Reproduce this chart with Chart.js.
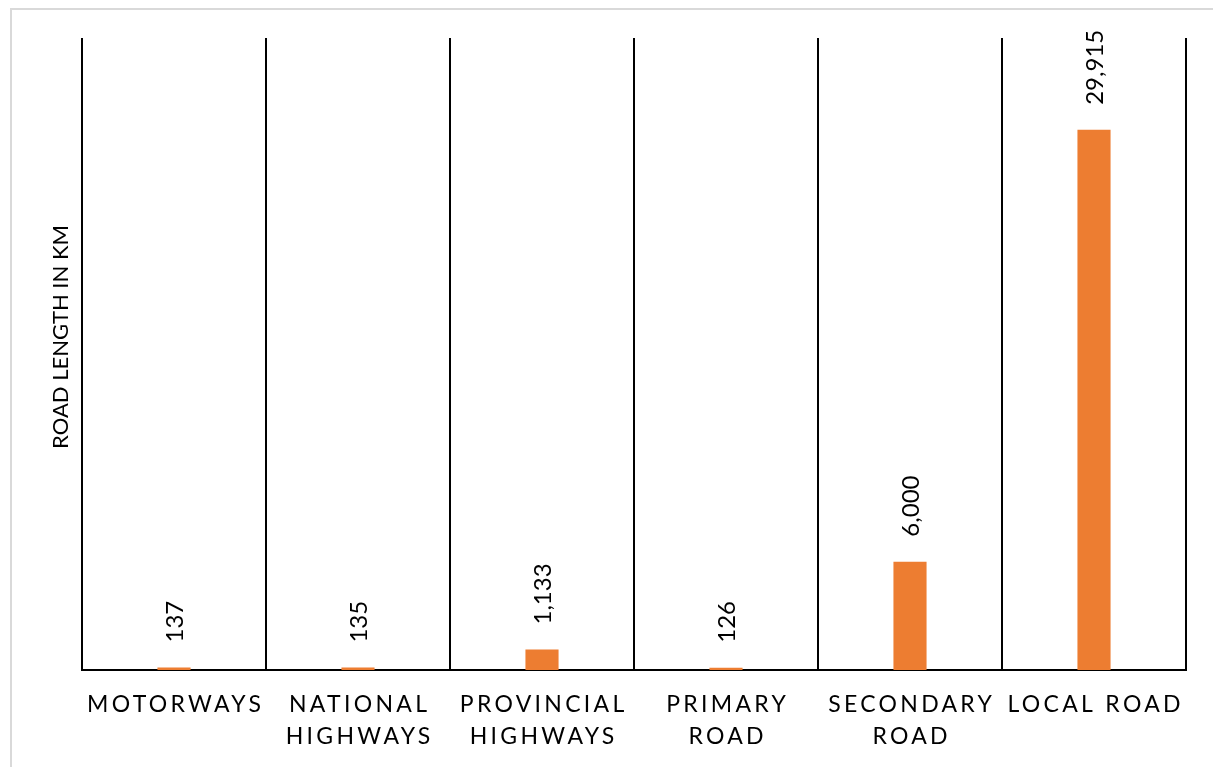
<!DOCTYPE html>
<html>
<head>
<meta charset="utf-8">
<title>Road length by road type</title>
<script src="https://cdn.jsdelivr.net/npm/chart.js@4.4.1/dist/chart.umd.min.js"></script>
<style>
  html, body { margin: 0; padding: 0; background: #fff; overflow: hidden; }
  #wrap { position: relative; width: 1213px; height: 767px; }
  #frame {
    position: absolute; left: 10px; top: 8px; width: 1300px; height: 900px;
    border: 2px solid #d9d9d9; box-sizing: border-box;
  }
  #c { position: absolute; left: 0; top: 0; }
</style>
</head>
<body>
<div id="wrap">
  <div id="frame"></div>
  <canvas id="c" width="1213" height="767"></canvas>
</div>
<script>
// Road types (multi-line category labels)
const categories = [
  ['MOTORWAYS'],
  ['NATIONAL', 'HIGHWAYS'],
  ['PROVINCIAL', 'HIGHWAYS'],
  ['PRIMARY', 'ROAD'],
  ['SECONDARY', 'ROAD'],
  ['LOCAL ROAD']
];
// Length of each road type, km
const roadLengthKm = [137, 135, 1133, 126, 6000, 29915];
const yAxisTitle = 'ROAD LENGTH IN KM';
const yAxisMax = 35000;

const FONT = 'Lato, "Open Sans", sans-serif';
const BAR_COLOR = '#ED7D31';

// Category axis whose labels are drawn with extra letter spacing
class SpacedCategoryScale extends Chart.CategoryScale {
  drawLabels(area) {
    const ctx = this.ctx;
    const spacing = 3.3;
    ctx.save();
    ctx.letterSpacing = spacing + 'px';
    ctx.translate(spacing / 2, 0);
    super.drawLabels(area);
    ctx.restore();
  }
}
SpacedCategoryScale.id = 'spacedCategory';
SpacedCategoryScale.defaults = Chart.CategoryScale.defaults;

// Value axis whose title sits slightly above the middle of the axis
class RaisedTitleLinearScale extends Chart.LinearScale {
  drawTitle() {
    const ctx = this.ctx;
    ctx.save();
    ctx.translate(0, -17);
    super.drawTitle();
    ctx.restore();
  }
}
RaisedTitleLinearScale.id = 'raisedTitleLinear';
RaisedTitleLinearScale.defaults = Chart.LinearScale.defaults;

Chart.register(SpacedCategoryScale, RaisedTitleLinearScale);

// Rotated value labels above every bar
const barValueLabels = {
  id: 'barValueLabels',
  afterDatasetsDraw(chart) {
    const ctx = chart.ctx;
    const meta = chart.getDatasetMeta(0);
    ctx.save();
    ctx.font = '24px ' + FONT;
    ctx.fillStyle = '#000';
    ctx.textAlign = 'left';
    ctx.textBaseline = 'middle';
    meta.data.forEach((bar, i) => {
      const { x, y } = bar.getProps(['x', 'y'], true);
      ctx.save();
      ctx.translate(x + 1, y - 25);
      ctx.rotate(-Math.PI / 2);
      ctx.fillText(roadLengthKm[i].toLocaleString('en-US'), 0, 0);
      ctx.restore();
    });
    ctx.restore();
  }
};

new Chart(document.getElementById('c'), {
  type: 'bar',
  data: {
    labels: categories,
    datasets: [{
      data: roadLengthKm,
      backgroundColor: BAR_COLOR,
      borderWidth: 0,
      categoryPercentage: 0.18,
      barPercentage: 1
    }]
  },
  options: {
    responsive: false,
    devicePixelRatio: 1,
    animation: false,
    events: [],
    layout: { padding: { left: 0, top: 38, right: 27, bottom: 0 } },
    plugins: {
      legend: { display: false },
      tooltip: { enabled: false }
    },
    scales: {
      x: {
        type: 'spacedCategory',
        offset: true,
        grid: {
          offset: true,
          display: true,
          drawOnChartArea: true,
          drawTicks: false,
          color: '#000',
          lineWidth: 2
        },
        border: { display: true, color: '#000', width: 2 },
        ticks: {
          color: '#000',
          padding: 19,
          maxRotation: 0,
          autoSkip: false,
          font: { family: FONT, size: 23, lineHeight: 1.39 }
        },
        afterFit(scale) { scale.height = 97; }
      },
      y: {
        type: 'raisedTitleLinear',
        min: 0,
        max: yAxisMax,
        grid: { display: false },
        border: { display: false },
        ticks: { display: false },
        title: {
          display: true,
          text: yAxisTitle,
          color: '#000',
          font: { family: FONT, size: 22 },
          padding: { top: 48, bottom: 0 }
        },
        afterFit(scale) { scale.width = 82; }
      }
    }
  },
  plugins: [barValueLabels]
});
</script>
</body>
</html>
